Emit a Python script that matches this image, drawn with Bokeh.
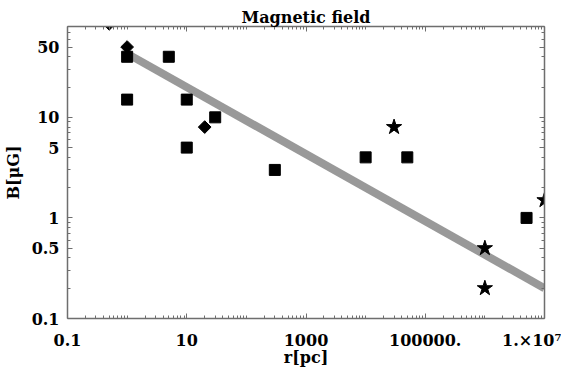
import math
from bokeh.plotting import figure
from bokeh.models import FixedTicker, LogAxis, CustomJSTickFormatter
from bokeh.embed import file_html
from bokeh.resources import INLINE

# ---- data ----
square_r = [1, 1, 5, 10, 10, 30, 300, 1e4, 5e4, 5e6]
square_B = [40, 15, 40, 15, 5, 10, 3, 4, 4, 1]
diamond_r = [0.5, 1, 20]
diamond_B = [85, 50, 8]
star_r = [3e4, 1e6, 1e6, 1e7]
star_B = [8, 0.5, 0.2, 1.5]
fit_r = [1, 1e7]
fit_B = [43, 0.2]

x_ticks = [0.1, 10, 1000, 1e5, 1e7]
x_tick_labels = ["0.1", "10", "1000", "100000.", "1.\u00d710\u2077"]
y_ticks = [0.1, 0.5, 1, 5, 10, 50]
y_tick_labels = ["0.1", "0.5", "1", "5", "10", "50"]

title_text = "Magnetic field"
x_label = "r[pc]"
y_label = "B[\u03bcG]"

# minor tick positions (k * 10^d, not majors)
x_minor = [k * 10.0 ** d for d in range(-1, 7) for k in range(1, 10)]
x_minor = [v for v in x_minor if all(abs(math.log10(v) - math.log10(t)) > 1e-9 for t in x_ticks)]
y_minor = [k * 10.0 ** d for d in range(-1, 2) for k in range(1, 10) if k * 10.0 ** d <= 80]
y_minor = [v for v in y_minor if all(abs(math.log10(v) - math.log10(t)) > 1e-9 for t in y_ticks)]

FONT = "DejaVu Serif"
AX_COLOR = "#6e6e6e"

p = figure(width=561, height=369, x_axis_type="log", y_axis_type="log",
           x_range=(0.1, 1e7), y_range=(0.1, 80),
           output_backend="svg", toolbar_location=None,
           min_border_left=58, min_border_right=17, min_border_top=26, min_border_bottom=48)
p.grid.visible = False
p.outline_line_color = None
p.background_fill_color = "white"

p.title.text = title_text
p.title.align = "center"
p.title.text_font = FONT
p.title.text_font_style = "bold"
p.title.text_font_size = "16px"
p.title.text_color = "black"
p.title.standoff = 0
p.title.offset = 0


def fmt(vals, labs):
    return CustomJSTickFormatter(args=dict(vals=vals, labs=labs), code="""
        for (let i = 0; i < vals.length; i++) {
            if (Math.abs(Math.log10(tick) - Math.log10(vals[i])) < 1e-6) return labs[i];
        }
        return "";
    """)


def style(ax, ticks, minors, labels=None):
    ax.ticker = FixedTicker(ticks=ticks, minor_ticks=minors)
    ax.axis_line_color = AX_COLOR
    ax.axis_line_width = 1.5
    ax.major_tick_line_color = AX_COLOR
    ax.minor_tick_line_color = AX_COLOR
    ax.major_tick_in = 5
    ax.major_tick_out = 0
    ax.minor_tick_in = 3
    ax.minor_tick_out = 0
    if labels is None:
        ax.major_label_text_font_size = "0px"
        ax.major_label_standoff = 0
        ax.axis_label = None
        ax.axis_label_standoff = 0
        ax.axis_label_text_font_size = "0px"
        ax.formatter = CustomJSTickFormatter(code="return '';")
    else:
        ax.formatter = fmt(ticks, labels)
        ax.major_label_text_font = FONT
        ax.major_label_text_font_style = "bold"
        ax.major_label_text_font_size = "16px"
        ax.major_label_text_color = "black"
        ax.axis_label_text_font = FONT
        ax.axis_label_text_font_style = "bold"
        ax.axis_label_text_font_size = "16px"
        ax.axis_label_text_color = "black"


style(p.xaxis[0], x_ticks, x_minor, x_tick_labels)
p.xaxis[0].axis_label = x_label
p.xaxis[0].major_label_standoff = 12
p.xaxis[0].axis_label_standoff = -5
style(p.yaxis[0], y_ticks, y_minor, y_tick_labels)
p.yaxis[0].axis_label = y_label
p.yaxis[0].major_label_standoff = 8
p.yaxis[0].axis_label_standoff = 6

top_ax = LogAxis()
style(top_ax, x_ticks, x_minor)
p.add_layout(top_ax, "above")
right_ax = LogAxis()
style(right_ax, y_ticks, y_minor)
p.add_layout(right_ax, "right")

p.line(fit_r, fit_B, line_color="#999999", line_width=8)
p.scatter(square_r, square_B, marker="square", size=11, fill_color="black", line_color="black")
p.scatter(diamond_r, diamond_B, marker="square", angle=math.pi / 4, size=9, fill_color="black",
          line_color="black")
p.scatter(star_r, star_B, marker="star", size=16, fill_color="black", line_color="black")

open("out.html", "w").write(file_html(p, INLINE))
